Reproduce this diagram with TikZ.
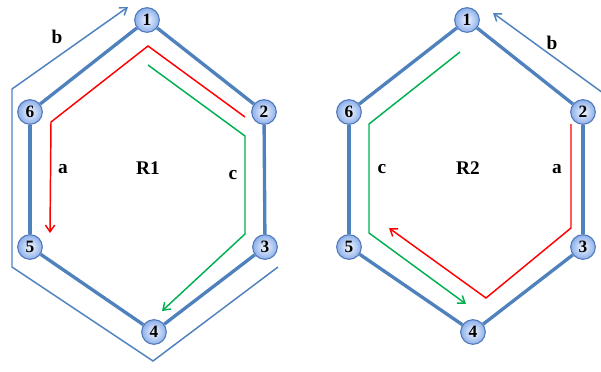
\documentclass[tikz,border=0pt]{standalone}
\usepackage{fontspec}
\setmainfont{Liberation Serif}
\usetikzlibrary{arrows.meta}
\definecolor{hexblue}{RGB}{79,129,189}
\definecolor{nodeedge}{RGB}{80,120,185}
\definecolor{nodefill}{RGB}{140,175,235}
\definecolor{pathred}{RGB}{255,0,0}
\definecolor{pathgreen}{RGB}{0,176,80}
\tikzset{
  atom/.style={circle, draw=nodeedge, line width=0.8pt, inner color=white!90!nodefill, outer color=nodefill,
    minimum size=18.5pt, inner sep=0pt, font=\fontsize{13}{14}\selectfont\bfseries},
  bond/.style={hexblue, line width=2.5pt},
  redpath/.style={pathred, line width=1.1pt, -{Straight Barb[length=5pt,width=7pt]}},
  greenpath/.style={pathgreen, line width=1.1pt, -{Straight Barb[length=5pt,width=7pt]}},
  bluepath/.style={hexblue, line width=1.1pt, -{Straight Barb[length=5pt,width=7pt]}},
  lbl/.style={font=\fontsize{14.5}{15}\selectfont\bfseries, inner sep=0pt}
}
\begin{document}
\begin{tikzpicture}[x=0.75pt,y=-0.75pt]
\useasboundingbox (0,0) rectangle (601,372);
% ---------- left ring ----------
\coordinate (Lb0) at (278,267);
\coordinate (Lb1) at (153,361);
\coordinate (Lb2) at (12,267);
\coordinate (Lb3) at (12,89);
\coordinate (Lb4) at (128,7);
\draw[bluepath] (Lb0) -- (Lb1) -- (Lb2) -- (Lb3) -- (Lb4);
\node[atom] (L1) at (147,20) {1};
\node[atom] (L2) at (264,112) {2};
\node[atom] (L3) at (265,247) {3};
\node[atom] (L4) at (154,332) {4};
\node[atom] (L5) at (30,247) {5};
\node[atom] (L6) at (30,112) {6};
\draw[bond] (L1) -- (L2);
\draw[bond] (L2) -- (L3);
\draw[bond] (L3) -- (L4);
\draw[bond] (L4) -- (L5);
\draw[bond] (L5) -- (L6);
\draw[bond] (L6) -- (L1);
\coordinate (La0) at (245,117);
\coordinate (La1) at (148,46);
\coordinate (La2) at (51,122);
\coordinate (La3) at (50,233);
\draw[redpath] (La0) -- (La1) -- (La2) -- (La3);
\coordinate (Lc0) at (148,65);
\coordinate (Lc1) at (245,136);
\coordinate (Lc2) at (245,234);
\coordinate (Lc3) at (162,311);
\draw[greenpath] (Lc0) -- (Lc1) -- (Lc2) -- (Lc3);
\node[lbl] (Llb) at (57,37) {b};
\node[lbl] (Lla) at (63,169) {a};
\node[lbl] (LR) at (148,168) {R1};
\node[lbl] (Llc) at (233,175) {c};
% ---------- right ring ----------
\coordinate (Rb0) at (603,93);
\coordinate (Rb1) at (493,13);
\draw[bluepath] (Rb0) -- (Rb1);
\node[atom] (R1) at (467,20) {1};
\node[atom] (R2) at (583,112) {2};
\node[atom] (R3) at (583,247) {3};
\node[atom] (R4) at (473,332) {4};
\node[atom] (R5) at (349,247) {5};
\node[atom] (R6) at (349,112) {6};
\draw[bond] (R1) -- (R2);
\draw[bond] (R2) -- (R3);
\draw[bond] (R3) -- (R4);
\draw[bond] (R4) -- (R5);
\draw[bond] (R5) -- (R6);
\draw[bond] (R6) -- (R1);
\coordinate (Rc0) at (460,52);
\coordinate (Rc1) at (369,124);
\coordinate (Rc2) at (369,233);
\coordinate (Rc3) at (466,304);
\draw[greenpath] (Rc0) -- (Rc1) -- (Rc2) -- (Rc3);
\coordinate (Ra0) at (571,124);
\coordinate (Ra1) at (571,228);
\coordinate (Ra2) at (486,298);
\coordinate (Ra3) at (389,228);
\draw[redpath] (Ra0) -- (Ra1) -- (Ra2) -- (Ra3);
\node[lbl] (Rlb) at (552,43) {b};
\node[lbl] (Rlc) at (382,169) {c};
\node[lbl] (RR) at (468,168) {R2};
\node[lbl] (Rla) at (557,169) {a};
\end{tikzpicture}
\end{document}
